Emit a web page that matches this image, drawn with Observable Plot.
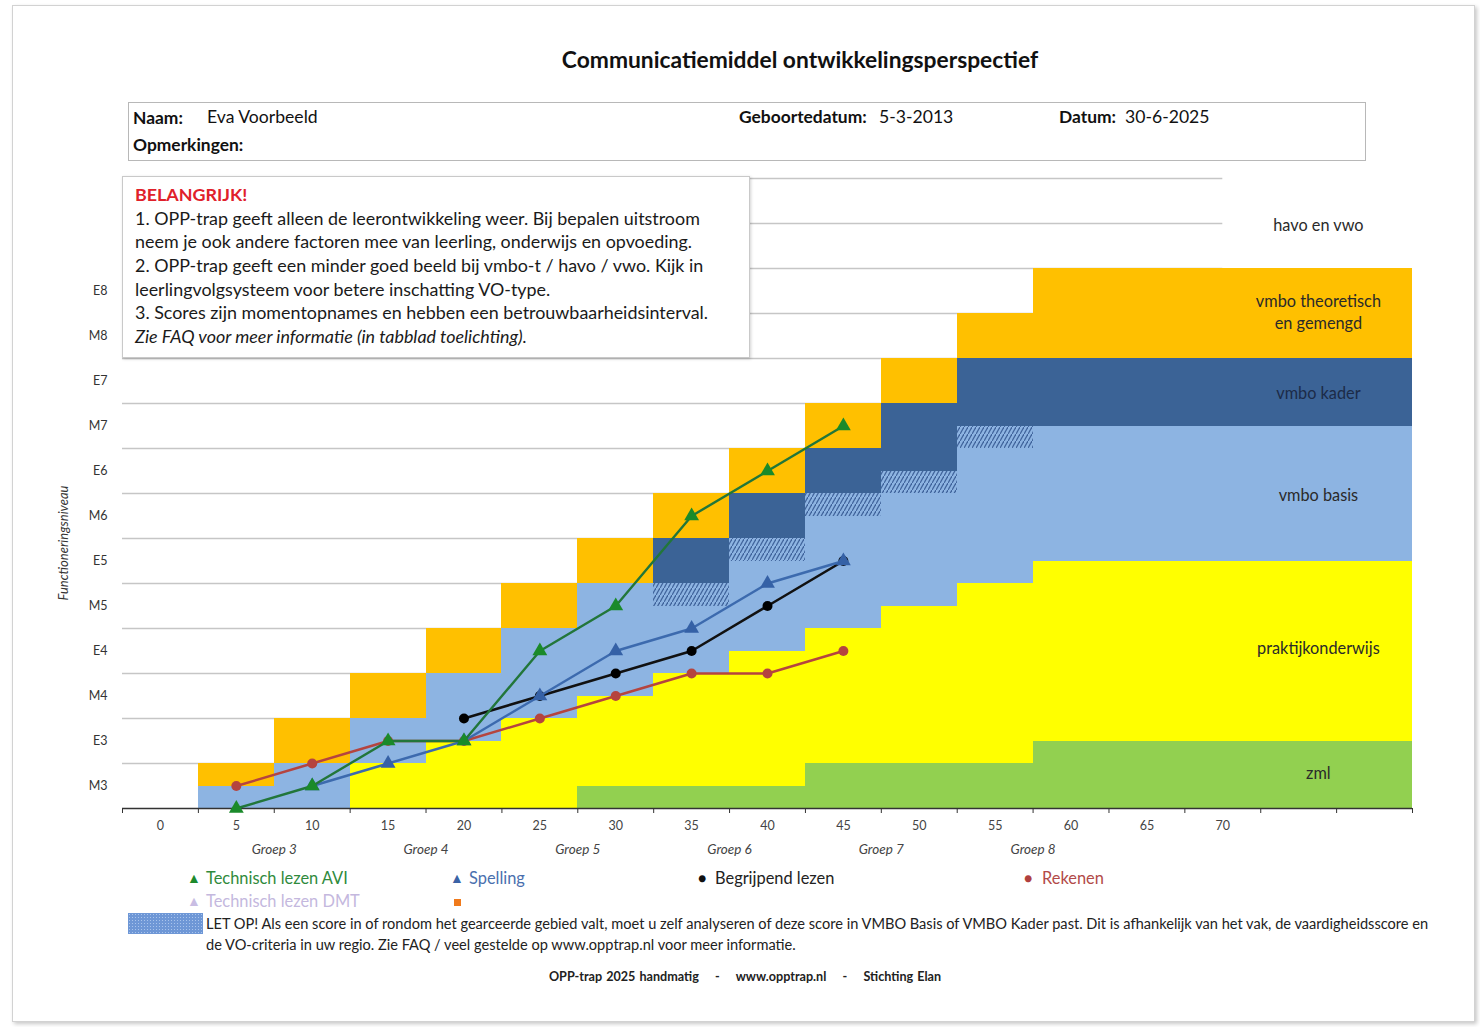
<!DOCTYPE html>
<html><head><meta charset="utf-8">
<script src="https://cdn.jsdelivr.net/npm/d3@7"></script>
<script src="https://cdn.jsdelivr.net/npm/@observablehq/plot@0.6"></script>
<style>
body{margin:0;background:#fff;font-family:Lato,"Open Sans",sans-serif;color:#222;}
#page{position:relative;width:1480px;height:1027px;overflow:hidden;background:#fff;}
#card{position:absolute;left:12px;top:5px;width:1461px;height:1015px;border:1px solid #d2d2d2;box-shadow:2px 2px 4px rgba(0,0,0,0.22);background:#fff;}
#chart{position:absolute;left:0;top:0;}
.abs{position:absolute;white-space:nowrap;line-height:1;}
#title{left:0;width:1600px;text-align:center;top:48px;font-weight:bold;font-size:22.8px;color:#111;}
#info{left:128px;top:102px;width:1236px;height:57px;border:1.5px solid #b8b8b8;}
.lbl{font-weight:bold;font-size:17.4px;color:#111;}
.val{font-size:17.6px;color:#111;}
#box{left:122px;top:176px;width:626px;height:180px;border:1px solid #c9c9c9;box-shadow:1px 1px 3px rgba(0,0,0,0.18);background:#fff;}
.bl{left:135px;font-size:17.9px;color:#1a1a1a;}
.leg{font-size:16.4px;}
.note{font-size:14.6px;color:#222;left:206px;}
#swatch{left:128px;top:913px;width:75px;height:21px;background-color:#6e97d6;background-image:radial-gradient(#a9c4ec 0.8px, transparent 1px);background-size:3px 3px;}
#footer{left:0;width:1490px;text-align:center;top:971px;font-weight:bold;font-size:12.6px;color:#222;word-spacing:1px;}
</style></head>
<body>
<div id="page">
  <div id="card"></div>
  <div id="chart"></div>
  <div class="abs" id="title">Communicatiemiddel ontwikkelingsperspectief</div>
  <div class="abs" id="info"></div>
  <div class="abs lbl" style="left:133px;top:109px;">Naam:</div>
  <div class="abs val" style="left:207px;top:108px;">Eva Voorbeeld</div>
  <div class="abs lbl" style="left:739px;top:108px;">Geboortedatum:</div>
  <div class="abs val" style="left:879px;top:108px;">5-3-2013</div>
  <div class="abs lbl" style="left:1059px;top:108px;">Datum:</div>
  <div class="abs val" style="left:1125px;top:108px;">30-6-2025</div>
  <div class="abs lbl" style="left:133px;top:136px;">Opmerkingen:</div>

  <div class="abs" id="box"></div>
  <div class="abs bl" style="top:186px;color:#e0202a;font-weight:bold;">BELANGRIJK!</div>
  <div class="abs bl" style="top:210px;">1. OPP-trap geeft alleen de leerontwikkeling weer. Bij bepalen uitstroom</div>
  <div class="abs bl" style="top:233px;">neem je ook andere factoren mee van leerling, onderwijs en opvoeding.</div>
  <div class="abs bl" style="top:257px;">2. OPP-trap geeft een minder goed beeld bij vmbo-t / havo / vwo. Kijk in</div>
  <div class="abs bl" style="top:281px;">leerlingvolgsysteem voor betere inschatting VO-type.</div>
  <div class="abs bl" style="top:304px;">3. Scores zijn momentopnames en hebben een betrouwbaarheidsinterval.</div>
  <div class="abs bl" style="top:328px;font-style:italic;">Zie FAQ voor meer informatie (in tabblad toelichting).</div>

  <div class="abs leg" style="left:187px;top:871px;font-size:14px;color:#1d8a2c;">&#9650;</div>
  <div class="abs leg" style="left:206px;top:870px;color:#2f8a3c;">Technisch lezen AVI</div>
  <div class="abs leg" style="left:450px;top:871px;font-size:14px;color:#3b63a6;">&#9650;</div>
  <div class="abs leg" style="left:469px;top:870px;color:#4a6fae;">Spelling</div>
  <div class="abs leg" style="left:698px;top:871px;font-size:14px;color:#111;">&#9679;</div>
  <div class="abs leg" style="left:715px;top:870px;color:#222;">Begrijpend lezen</div>
  <div class="abs leg" style="left:1024px;top:871px;font-size:14px;color:#b0403e;">&#9679;</div>
  <div class="abs leg" style="left:1042px;top:870px;color:#b24a48;">Rekenen</div>
  <div class="abs leg" style="left:187px;top:894px;font-size:14px;color:#c9bde3;">&#9650;</div>
  <div class="abs leg" style="left:206px;top:893px;color:#c4b8de;">Technisch lezen DMT</div>
  <div class="abs" style="left:454px;top:899px;width:7px;height:7px;background:#f07a1c;"></div>

  <div class="abs" id="swatch"></div>
  <div class="abs note" style="top:917px;">LET OP! Als een score in of rondom het gearceerde gebied valt, moet u zelf analyseren of deze score in VMBO Basis of VMBO Kader past. Dit is afhankelijk van het vak, de vaardigheidsscore en</div>
  <div class="abs note" style="top:938px;">de VO-criteria in uw regio. Zie FAQ / veel gestelde op www.opptrap.nl voor meer informatie.</div>
  <div class="abs" id="footer">OPP-trap 2025 handmatig &nbsp;&nbsp; - &nbsp;&nbsp; www.opptrap.nl &nbsp;&nbsp; - &nbsp;&nbsp; Stichting Elan</div>
</div>
<script>
// ---- data ----
const levels = ["M3","E3","M4","E4","M5","E5","M6","E6","M7","E7","M8","E8"];
const xLabels = [0,5,10,15,20,25,30,35,40,45,50,55,60,65,70];
const groups = ["Groep 3","Groep 4","Groep 5","Groep 6","Groep 7","Groep 8"];
const groupPos = [7.5,17.5,27.5,37.5,47.5,57.5];

// stepped bands: one column per 5 units
const cols        = [0,5,10,15,20,25,30,35,40,45,50,55,60,65,70,75,80];
const zmlTop      = [0,0,0,0,0,0,0.5,0.5,0.5,1,1,1,1.5,1.5,1.5,1.5,1.5];
const praktijkTop = [0,0,0,1,1.5,2,2.5,3,3.5,4,4.5,5,5.5,5.5,5.5,5.5,5.5];
const basisTop    = [0,0.5,1,2,3,4,5,5,6,7,7.5,8.5,8.5,8.5,8.5,8.5,8.5];
const kaderTop    = [0,0.5,1,2,3,4,5,6,7,8,9,10,10,10,10,10,10];
const theoTop     = [0,1,2,3,4,5,6,7,8,9,10,11,12,12,12,12,12];
const hatchBottom = [null,null,null,null,null,null,null,4.5,5.5,6.5,7,8,null,null,null,null,null];
const hatchHeight = 0.5;

const bandNames  = ["zml","praktijkonderwijs","vmbo basis","vmbo kader","vmbo theoretisch en gemengd"];
const bandColors = ["#92D050","#FFFF00","#8DB4E2","#3B6396","#FFC000"];
const bandLabels = ["zml","praktijkonderwijs","vmbo basis","vmbo kader","vmbo theoretisch\nen gemengd","havo en vwo"];
const bandLabelY = [0.82,3.6,7,9.25,11.05,13];
const bandLabelX = 76.3;

// scores
const meetX       = [5,10,15,20,25,30,35,40,45];
const aviY        = [0,0.5,1.5,1.5,3.5,4.5,6.5,7.5,8.5];
const spellingY   = [null,0.5,1,1.5,2.5,3.5,4,5,5.5];
const begrijpendY = [null,null,null,2,2.5,3,3.5,4.5,5.5];
const rekenenY    = [0.5,1,1.5,1.5,2,2.5,3,3,3.5];

const gridY = [1,2,3,4,5,6,7,8,9,10,11,12,13,14];
const tickBounds = d3.range(-2.5, 83, 5);

// ---- build tables ----
const tops = [zmlTop, praktijkTop, basisTop, kaderTop, theoTop];
const rects = [];
cols.forEach((c, i) => {
  let bottom = 0;
  tops.forEach((t, b) => {
    if (t[i] > bottom) rects.push({x1: c - 2.5, x2: c + 2.5, y1: bottom, y2: t[i], fill: bandColors[b]});
    bottom = Math.max(bottom, t[i]);
  });
});
const hatch = cols.map((c, i) => ({c, b: hatchBottom[i]})).filter(d => d.b != null)
  .map(d => ({x1: d.c - 2.5, x2: d.c + 2.5, y1: d.b, y2: d.b + hatchHeight}));

const series = (ys) => meetX.map((x, i) => ({x, y: ys[i]})).filter(d => d.y != null);
const avi = series(aviY), spelling = series(spellingY), begrijpend = series(begrijpendY), rekenen = series(rekenenY);

const labelRows = bandLabels.map((t, i) => ({t, y: bandLabelY[i], fill: t === "vmbo kader" ? "#1c2b48" : "#2a2a2a"}));

const chart = Plot.plot({
  width: 1480, height: 1027,
  marginLeft: 122, marginRight: 68, marginTop: 178, marginBottom: 219,
  x: {domain: [-2.5, 82.5]},
  y: {domain: [0, 14]},
  style: {fontFamily: "Lato, 'Open Sans', sans-serif", background: "transparent", overflow: "visible"},
  marks: [
    Plot.ruleY(gridY, {y: d => d, x1: -2.5, x2: 70, stroke: "#c6c6c6", strokeWidth: 1.3}),
    Plot.rect(rects, {x1: "x1", x2: "x2", y1: "y1", y2: "y2", fill: "fill", shapeRendering: "crispEdges"}),
    Plot.rect(hatch, {x1: "x1", x2: "x2", y1: "y1", y2: "y2", fill: "url(#hatch)", shapeRendering: "crispEdges"}),
    Plot.ruleY([0], {x1: -2.5, x2: 82.5, stroke: "#333", strokeWidth: 1.6}),
    Plot.axisX(tickBounds, {tickFormat: () => "", tickSize: 5, stroke: "#333", label: null}),
    Plot.axisX(xLabels, {tickSize: 0, tickPadding: 12.5, fontSize: 12.5, fill: "#444", label: null}),
    Plot.text(groupPos, {x: d => d, frameAnchor: "bottom", dy: 45, text: (d, i) => groups[i], fontStyle: "italic", fontSize: 13.5, fill: "#444"}),
    Plot.axisY(levels.map((_, i) => i + 0.5), {tickFormat: d => levels[Math.round(d - 0.5)], tickSize: 0, tickPadding: 15, fontSize: 12.5, fill: "#333", label: null}),
    Plot.text(["Functioneringsniveau"], {x: -2.5, y: 5.9, dx: -59, rotate: -90, text: d => d, fontStyle: "italic", fontSize: 13, fill: "#333"}),
    Plot.text(labelRows, {x: bandLabelX, y: "y", text: "t", fill: "fill", fontSize: 16.3, lineHeight: 1.35}),
    // series
    Plot.line(rekenen, {x: "x", y: "y", stroke: "#b5443f", strokeWidth: 2.4}),
    Plot.dot(rekenen, {x: "x", y: "y", r: 5, fill: "#b5443f"}),
    Plot.line(begrijpend, {x: "x", y: "y", stroke: "#111", strokeWidth: 2.6}),
    Plot.dot(begrijpend, {x: "x", y: "y", r: 5, fill: "#000"}),
    Plot.line(spelling, {x: "x", y: "y", stroke: "#3c6aae", strokeWidth: 2.4}),
    Plot.dot(spelling, {x: "x", y: "y", symbol: "triangle", r: 5.5, fill: "#3561a6"}),
    Plot.line(avi, {x: "x", y: "y", stroke: "#22763a", strokeWidth: 2.4}),
    Plot.dot(avi, {x: "x", y: "y", symbol: "triangle", r: 5.5, fill: "#1a8a2a"})
  ]
});

// hatch pattern definition
const svg = d3.select(chart);
const defs = svg.insert("defs", ":first-child");
const pat = defs.append("pattern").attr("id", "hatch").attr("patternUnits", "userSpaceOnUse")
  .attr("width", 4).attr("height", 7);
pat.append("rect").attr("width", 4).attr("height", 7).attr("fill", "#8DB4E2");
pat.append("path").attr("d", "M0,7 L4,0").attr("stroke", "#40649c").attr("stroke-width", 1.3);

document.getElementById("chart").appendChild(chart);
</script>
</body></html>
